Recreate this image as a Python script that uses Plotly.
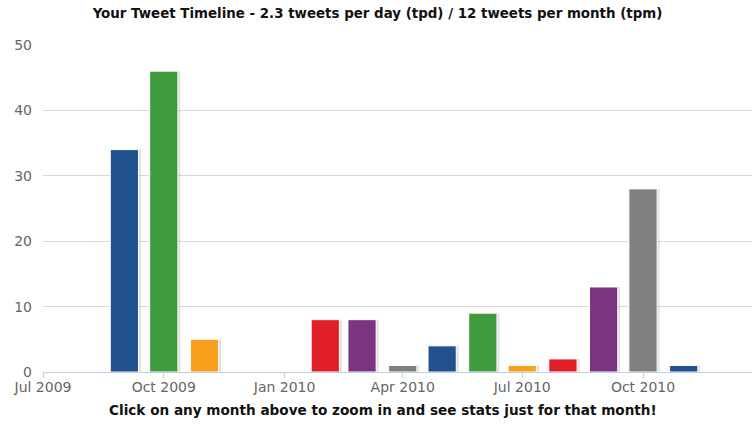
import plotly.graph_objects as go
import pandas as pd

# Monthly tweet counts (months with no tweets are not plotted)
months = ['2009-09-01', '2009-10-01', '2009-11-01', '2010-02-01', '2010-03-01',
          '2010-04-01', '2010-05-01', '2010-06-01', '2010-07-01', '2010-08-01',
          '2010-09-01', '2010-10-01', '2010-11-01']
tweets = [34, 46, 5, 8, 8, 1, 4, 9, 1, 2, 13, 28, 1]

TITLE = 'Your Tweet Timeline - 2.3 tweets per day (tpd) / 12 tweets per month (tpm)'
FOOTER = 'Click on any month above to zoom in and see stats just for that month!'

PALETTE = ['#21528f', '#3e9b3e', '#f8a01c', '#e01f27', '#7a3480', '#7f8181']
colors = [PALETTE[i % len(PALETTE)] for i in range(len(months))]

DAY = 24 * 3600 * 1000
bar_w = 21.5 * DAY

x = pd.to_datetime(months)

fig = go.Figure()

# soft shadow behind each column
fig.add_trace(go.Bar(
    x=x, y=tweets,
    width=[bar_w] * len(months),
    offset=-bar_w / 2 + 1.8 * DAY,
    marker=dict(color='rgba(0,0,0,0.12)', line=dict(width=0)),
    hoverinfo='skip', showlegend=False,
))

fig.add_trace(go.Bar(
    x=x, y=tweets,
    width=[bar_w] * len(months),
    marker=dict(color=colors, line=dict(color='white', width=1)),
    showlegend=False,
    hovertemplate='%{x|%b %Y}: %{y} tweets<extra></extra>',
))

fig.update_layout(
    width=755, height=425,
    barmode='overlay',
    plot_bgcolor='white', paper_bgcolor='white',
    margin=dict(l=43, r=3, t=45, b=53),
    font=dict(family='DejaVu Sans', size=14, color='#666666'),
    title=dict(text=TITLE, x=0.5, xanchor='center', y=0.968, yanchor='middle',
               font=dict(family='DejaVu Sans', size=13.4, color='#111111', weight='bold')),
)

fig.update_xaxes(
    type='date', automargin=False,
    range=['2009-07-01', '2010-12-23'],
    tick0='2009-07-01', dtick='M3', tickformat='%b %Y',
    showgrid=False,
    showline=True, linecolor='#c0d0e0', linewidth=1,
    ticks='outside', ticklen=5, tickcolor='#c0d0e0',
    ticklabelstandoff=-3,
    tickfont=dict(size=14, color='#666666'),
)

fig.update_yaxes(
    range=[0, 50], dtick=10, automargin=False,
    showgrid=True, gridcolor='#d9d9d9', gridwidth=1,
    zeroline=False, showline=False,
    ticklabelstandoff=10,
    tickfont=dict(size=14, color='#666666'),
)

fig.add_annotation(
    text=FOOTER, xref='paper', yref='paper', x=0.48, y=-0.117,
    xanchor='center', yanchor='middle', showarrow=False,
    font=dict(family='DejaVu Sans', size=13.6, color='#111111', weight='bold'),
)

# drop the browser's default page margin so the figure sits at the window origin
fig.write_html('out.html', config={'displayModeBar': False},
               post_script="document.body.style.margin='0';")
